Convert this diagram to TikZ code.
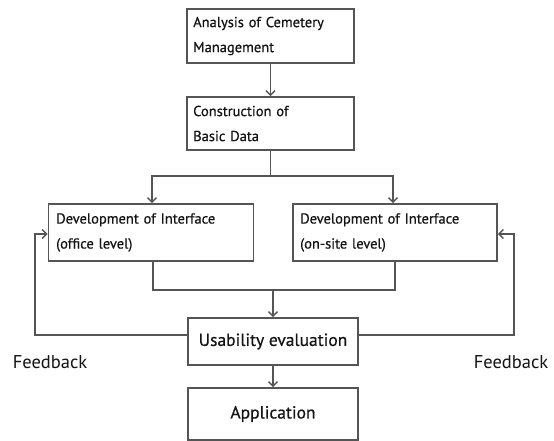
\documentclass[tikz,border=0pt]{standalone}
\usepackage{fontspec}
\setmainfont{PT Sans}
\newfontfamily\semib[FakeBold=0.6]{PT Sans}
\usetikzlibrary{arrows.meta}
\definecolor{ln}{RGB}{85,85,85}
\definecolor{tx}{RGB}{20,20,20}
\begin{document}
\begin{tikzpicture}[x=1pt,y=-1pt,
  box/.style={draw=ln,line width=1.8pt,rectangle,inner sep=0pt,text=tx},
  conn/.style={draw=ln,line width=1.8pt},
  arr/.style={conn,-{Straight Barb[length=4.5pt,width=9pt,line width=1.4pt]}},
  small/.style={font=\semib\fontsize{14.5}{25}\selectfont,align=left,text width=#1,inner xsep=6pt},
  big/.style={font=\semib\fontsize{17.5}{20}\selectfont},
]
\useasboundingbox[fill=white] (0,0) rectangle (554,441);
\node[box,minimum width=167pt,minimum height=54pt] (b1) at (270.5,36) {};
\node[small=160pt,anchor=west,text=tx] (t1) at (187,36) {Analysis of Cemetery\\Management};
\node[box,minimum width=167pt,minimum height=53pt] (b2) at (270.5,123.5) {};
\node[small=160pt,anchor=west,text=tx] (t2) at (187,123.5) {Construction of\\Basic Data};
\node[box,minimum width=205pt,minimum height=57pt] (l) at (151,232.5) {};
\node[small=200pt,anchor=west,text=tx] (tl) at (50,232.5) {Development of Interface\\(office level)};
\node[box,minimum width=204pt,minimum height=57pt] (r) at (395,232.5) {};
\node[small=200pt,anchor=west,text=tx] (tr) at (294,232.5) {Development of Interface\\(on-site level)};
\node[box,minimum width=170pt,minimum height=47pt,big] (u) at (273,341.5) {Usability evaluation};
\node[box,minimum width=170pt,minimum height=52pt,big] (a) at (273,414) {Application};
\node[text=tx,font=\fontsize{18.5}{20}\selectfont,inner sep=0pt] (f1) at (50,362) {Feedback};
\node[text=tx,font=\fontsize{18.5}{20}\selectfont,inner sep=0pt] (f2) at (511,362) {Feedback};
\coordinate (s) at (270.5,176);
\coordinate (m) at (273,290);
\draw[arr] (b1) -- (b2);
\draw[conn] (b2.south) -- (s);
\draw[arr] (s) -| (l.north -| 152,0);
\draw[arr] (s) -| (r.north -| 393,0);
\draw[conn] (l.south -| 153,0) |- (m);
\draw[conn] (r.south -| 395,0) |- (m);
\draw[arr] (m) -- (u);
\draw[arr] (u) -- (a);
\draw[arr] (u.west |- 0,335) -| (35,234) -- (l.west |- 0,234);
\draw[arr] (u.east |- 0,335) -| (514,234) -- (r.east |- 0,234);
\end{tikzpicture}
\end{document}
